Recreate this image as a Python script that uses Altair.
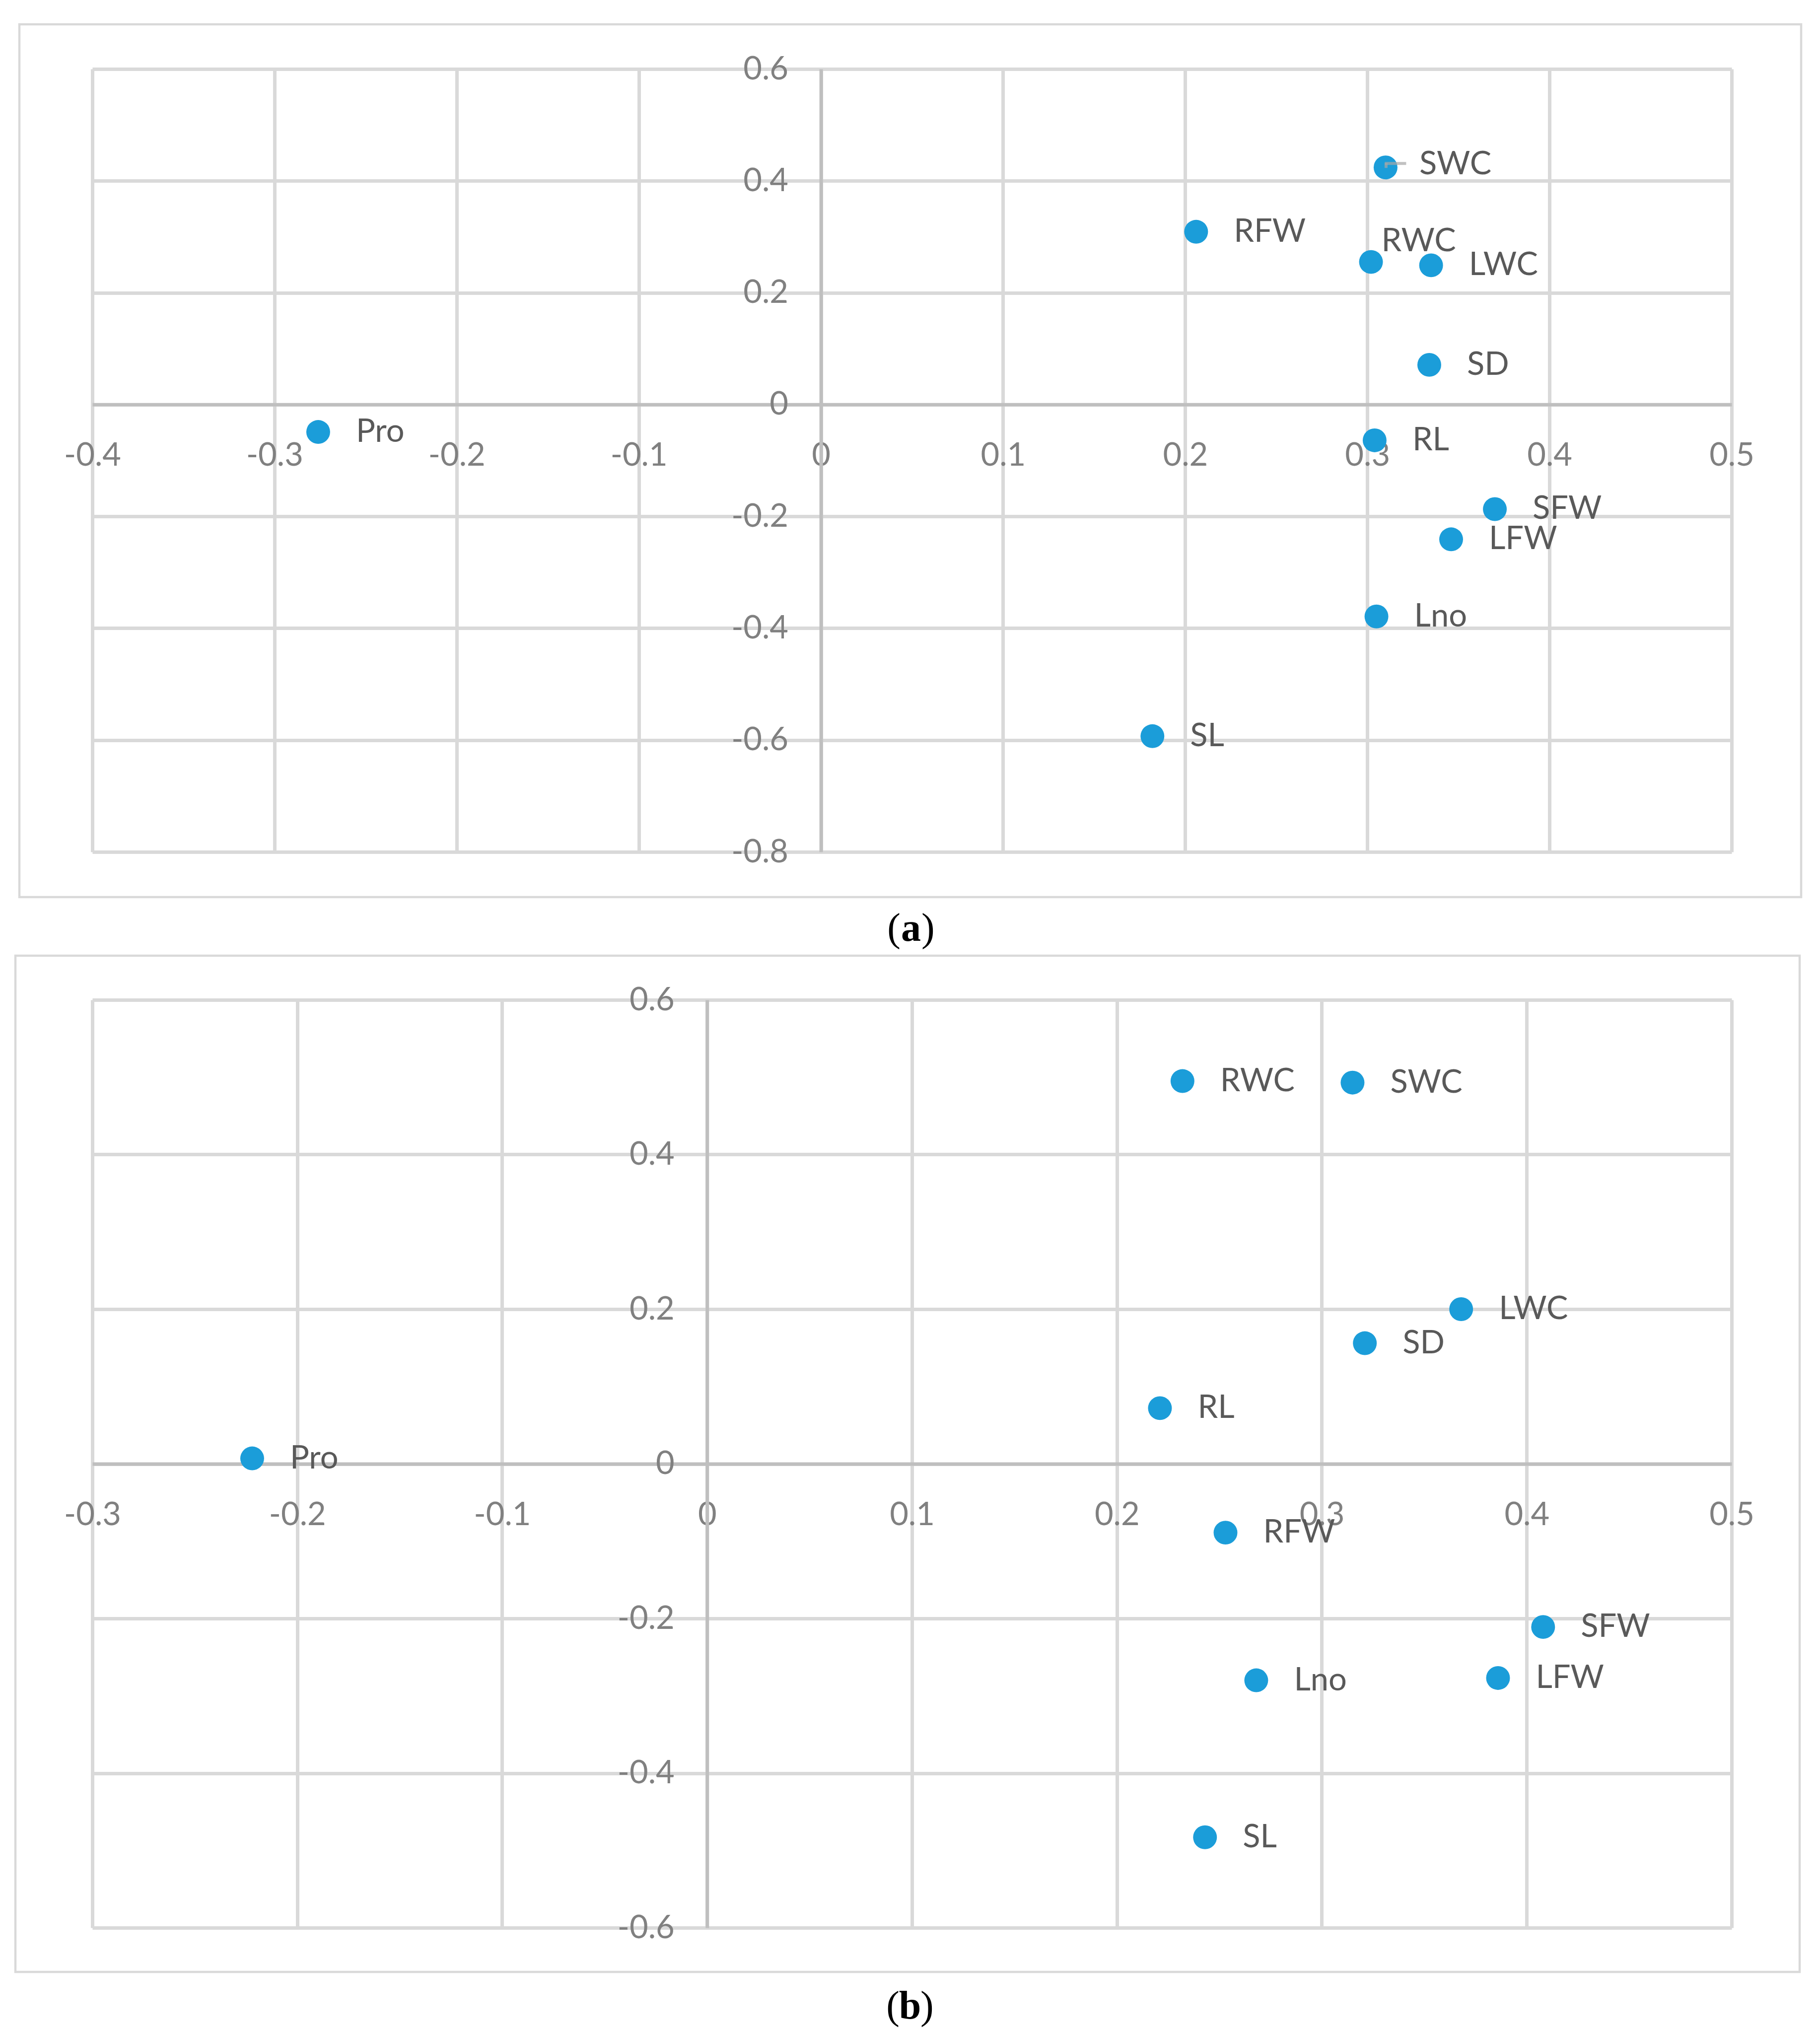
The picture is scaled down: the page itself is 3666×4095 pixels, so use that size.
import altair as alt
import pandas as pd

# ---------------- data ----------------
labels_a = ["Pro", "RFW", "SWC", "RWC", "LWC", "SD", "RL", "SFW", "LFW", "Lno", "SL"]
x_a = [-0.276, 0.206, 0.310, 0.302, 0.335, 0.334, 0.304, 0.370, 0.346, 0.305, 0.182]
y_a = [-0.049, 0.309, 0.424, 0.255, 0.249, 0.071, -0.064, -0.187, -0.241, -0.379, -0.593]

labels_b = ["Pro", "RWC", "SWC", "LWC", "SD", "RL", "RFW", "SFW", "Lno", "LFW", "SL"]
x_b = [-0.222, 0.232, 0.315, 0.368, 0.321, 0.221, 0.253, 0.408, 0.268, 0.386, 0.243]
y_b = [0.007, 0.495, 0.493, 0.200, 0.156, 0.072, -0.089, -0.211, -0.280, -0.277, -0.483]

xticks_a = [-0.4, -0.3, -0.2, -0.1, 0, 0.1, 0.2, 0.3, 0.4, 0.5]
yticks_a = [0.6, 0.4, 0.2, 0, -0.2, -0.4, -0.6, -0.8]
xticks_b = [-0.3, -0.2, -0.1, 0, 0.1, 0.2, 0.3, 0.4, 0.5]
yticks_b = [0.6, 0.4, 0.2, 0, -0.2, -0.4, -0.6]

caption_a = "a"
caption_b = "b"

# ---------------- style ----------------
POINT = "#1b9dd9"
GRID = "#d9d9d9"
ZERO = "#bfbfbf"
TICKLAB = "#808080"
PTLAB = "#595959"
FONT = "Lato"
SERIF = "Liberation Serif"
W = 3302


def panel(labels, xs, ys, xticks, yticks, H, frame, cap, cap_xy, special, leader):
    df = pd.DataFrame({"label": labels, "x": xs, "y": ys})
    xmin, xmax = min(xticks), max(xticks)
    ymin, ymax = min(yticks), max(yticks)
    xaxis_off = -H * (0 - ymin) / (ymax - ymin)
    yaxis_off = -W * (0 - xmin) / (xmax - xmin)

    common_axis = dict(
        title=None, grid=True, gridColor=GRID, gridWidth=7,
        domainColor=ZERO, domainWidth=7, ticks=False,
        labelFont=FONT, labelFontSize=65, labelColor=TICKLAB,
        labelOverlap=False, labelFlush=False,
        labelExpr="'' + datum.value",
    )
    xenc = alt.X("x:Q", scale=alt.Scale(domain=[xmin, xmax], nice=False, zero=False),
                 axis=alt.Axis(values=xticks, offset=xaxis_off, labelPadding=72,
                               **common_axis))
    yenc = alt.Y("y:Q", scale=alt.Scale(domain=[ymin, ymax], nice=False, zero=False),
                 axis=alt.Axis(values=yticks, offset=yaxis_off, labelPadding=66,
                               **common_axis))

    base = alt.Chart(df).encode(x=xenc, y=yenc)
    pts = base.mark_circle(size=2300, color=POINT, opacity=1)

    spec_names = [s[0] for s in special]
    expr = "indexof([" + ",".join("'%s'" % s for s in spec_names) + "], datum.label) < 0"
    txt_default = base.mark_text(align="left", baseline="middle", dx=76, font=FONT,
                                 fontSize=65, color=PTLAB).encode(text="label:N") \
        .transform_filter(expr)
    layers = [pts, txt_default]
    for name, dx, dy in special:
        layers.append(
            base.mark_text(align="left", baseline="middle", dx=dx, dy=dy, font=FONT,
                           fontSize=65, color=PTLAB).encode(text="label:N")
            .transform_filter(alt.datum.label == name)
        )
    if leader:
        lead = base.transform_filter(alt.datum.label == leader)
        layers.append(lead.mark_tick(orient="horizontal", size=43, thickness=6,
                                     color="#a6a6a6", xOffset=20, yOffset=-8))
        layers.append(lead.mark_tick(orient="vertical", size=10, thickness=6,
                                     color="#a6a6a6", xOffset=1, yOffset=-4))

    one = alt.Data(values=[{}])
    fx1, fx2, fy1, fy2 = frame
    frame_mark = alt.Chart(one).mark_rect(fillOpacity=0, stroke=GRID, strokeWidth=4.5).encode(
        x=alt.value(fx1), x2=alt.value(W + fx2), y=alt.value(fy1), y2=alt.value(H + fy2))
    cx, cy = cap_xy
    capL = alt.Chart(one).mark_text(text="(", align="right", baseline="middle", font=SERIF,
                                    fontSize=80, color="black").encode(
        x=alt.value(cx - 21), y=alt.value(cy))
    capM = alt.Chart(one).mark_text(text=cap, align="center", baseline="middle", font=SERIF,
                                    fontSize=80, fontWeight="bold", color="black").encode(
        x=alt.value(cx), y=alt.value(cy))
    capR = alt.Chart(one).mark_text(text=")", align="left", baseline="middle", font=SERIF,
                                    fontSize=80, color="black").encode(
        x=alt.value(cx + 21), y=alt.value(cy))
    layers += [frame_mark, capL, capM, capR]
    return alt.layer(*layers).properties(width=W, height=H)


pa = panel(labels_a, x_a, y_a, xticks_a, yticks_a, 1577,
           (-147, 140, -90, 91), caption_a, (1649, 1732),
           [("RWC", 21, -42), ("SWC", 68, -6)], "SWC")
pb = panel(labels_b, x_b, y_b, xticks_b, yticks_b, 1869,
           (-155, 137, -89, 89), caption_b, (1647, 2028),
           [], None)

chart = alt.vconcat(pa, pb, spacing=10).properties(
    padding={"left": 20, "top": 38, "right": 5, "bottom": 5}
).configure_view(strokeWidth=0).configure(background="white")

chart.save("out.html", embed_options={"renderer": "svg", "actions": False})
